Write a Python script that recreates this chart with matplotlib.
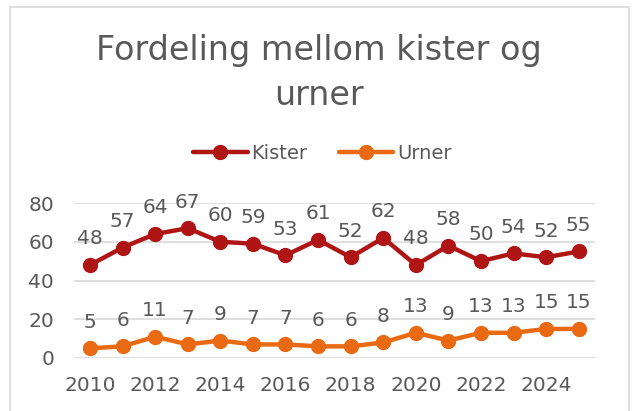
import matplotlib.pyplot as plt
from matplotlib.patches import Rectangle

years = list(range(2010, 2026))
kister = [48, 57, 64, 67, 60, 59, 53, 61, 52, 62, 48, 58, 50, 54, 52, 55]
urner = [5, 6, 11, 7, 9, 7, 7, 6, 6, 8, 13, 9, 13, 13, 15, 15]
series_names = ["Kister", "Urner"]
title = "Fordeling mellom kister og\nurner"

TEXT = "#595959"
KISTER_COLOR = "#B01515"
URNER_COLOR = "#EA6A14"

plt.rcParams['font.family'] = ['DejaVu Sans']

fig = plt.figure(figsize=(6.32, 4.11), dpi=100)
ax = fig.add_axes([0.1166, 0.129, 0.8249, 0.377])

# chart border like the office chart frame
fig.patches.append(Rectangle((10/632, -0.1), 619/632, 1.1 - 7/411, transform=fig.transFigure,
                             fill=False, edgecolor="#D9D9D9", linewidth=1.2))

for vals, color, name in [(kister, KISTER_COLOR, series_names[0]), (urner, URNER_COLOR, series_names[1])]:
    ax.plot(years, vals, color=color, linewidth=3.2, marker='o', markersize=10, label=name,
            solid_capstyle='round')
    for x, v in zip(years, vals):
        ax.annotate(str(v), (x, v), xytext=(0, 12), textcoords='offset points',
                    ha='center', va='bottom', fontsize=14.5, color=TEXT)

ax.set_xlim(2009.5, 2025.5)
ax.set_ylim(0, 80)
ax.set_yticks(range(0, 81, 20))
ax.set_xticks(range(2010, 2026, 2))
ax.tick_params(length=0, labelsize=14.5, colors=TEXT)
ax.tick_params(axis='x', pad=13)
ax.tick_params(axis='y', pad=14)
for s in ax.spines.values():
    s.set_visible(False)
ax.grid(axis='y', color="#D9D9D9", linewidth=1.2)
ax.set_axisbelow(True)

fig.text(0.505, 0.823, title, ha='center', va='center', fontsize=24, color=TEXT, linespacing=1.45)

fig.legend(loc='center', bbox_to_anchor=(0.51, 0.627), ncol=2, frameon=False, fontsize=14,
           labelcolor=TEXT, handlelength=2.8, handletextpad=0.2, columnspacing=1.6)

fig.savefig("out.png", dpi=100)
